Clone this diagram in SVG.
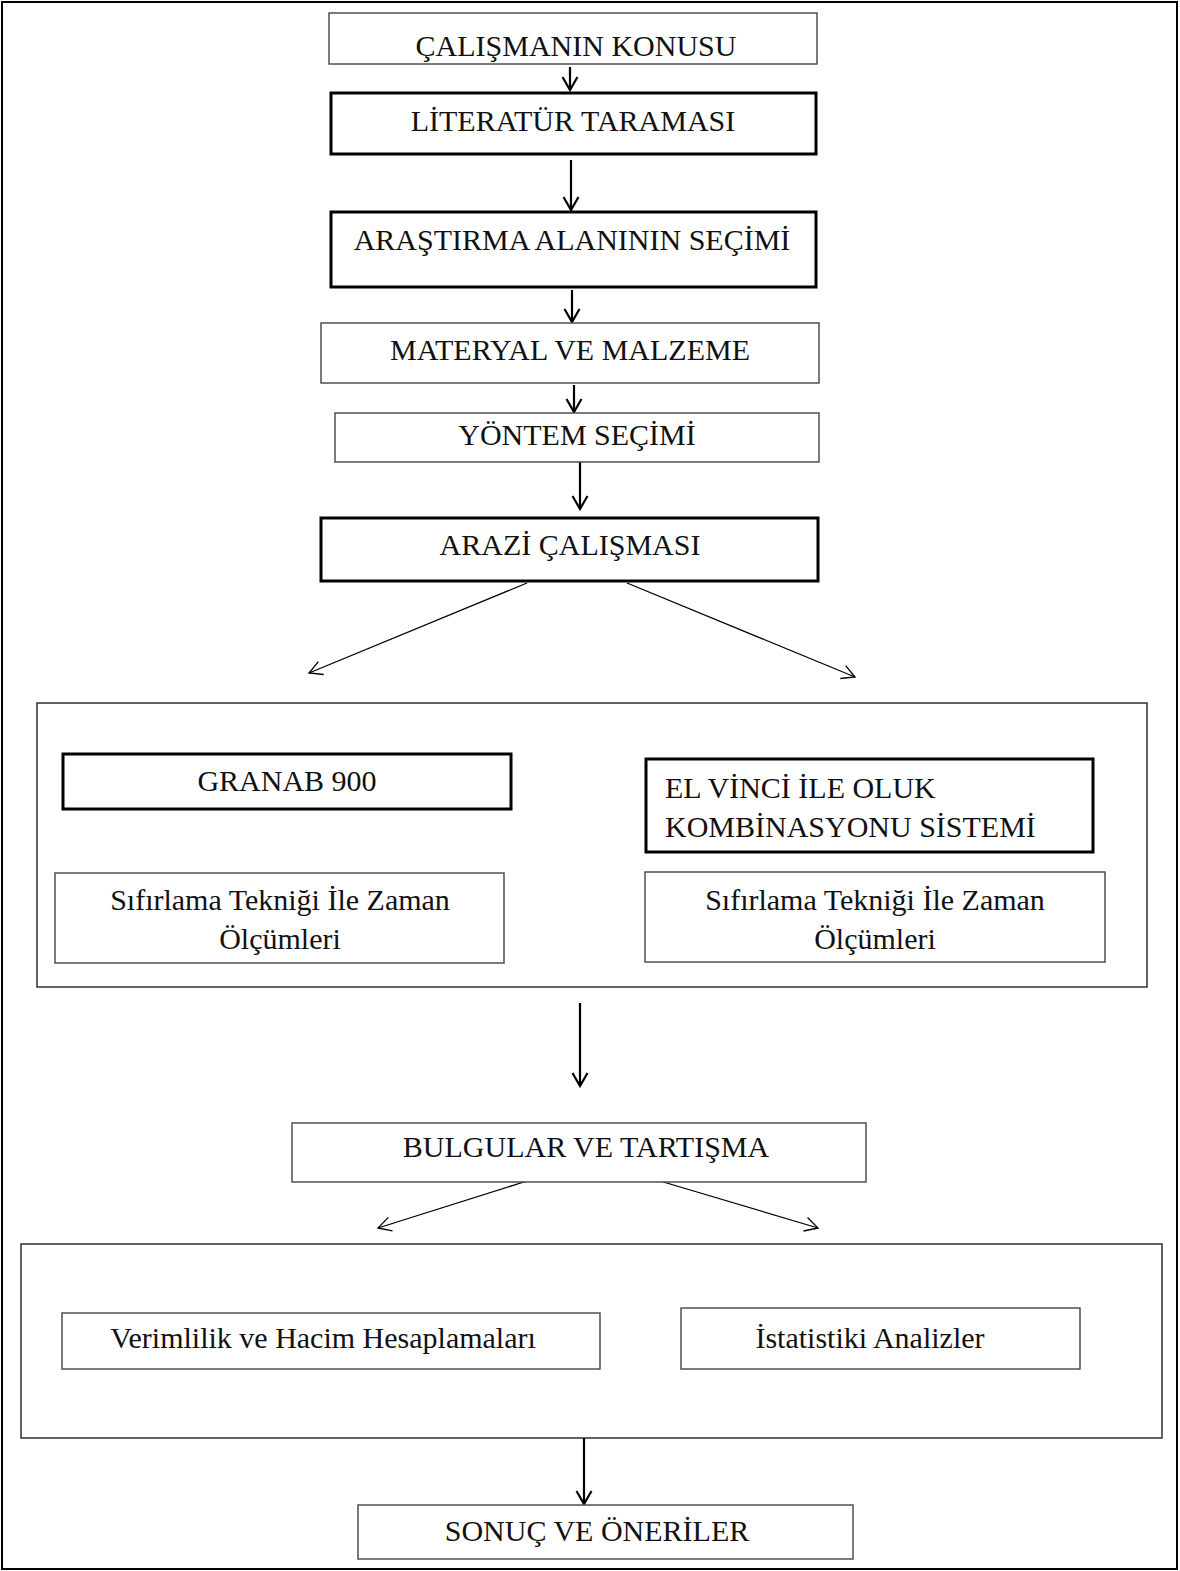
<svg xmlns="http://www.w3.org/2000/svg" width="1180" height="1571" viewBox="0 0 1180 1571">
<style>
.bg{fill:#fff}
.frame{fill:none;stroke:#000;stroke-width:2}
.thin{fill:#fff;stroke:#444;stroke-width:1.4}
.thick{fill:#fff;stroke:#000;stroke-width:3}
.cont{fill:none;stroke:#222;stroke-width:1.4}
text{font-family:"Liberation Serif","Times New Roman",serif;font-size:30px;fill:#111}
.c{text-anchor:middle}
.v{fill:none;stroke:#000;stroke-width:2.2;marker-end:url(#ah)}
.d{fill:none;stroke:#000;stroke-width:1.3;marker-end:url(#ahd)}
</style>
<defs>
<marker id="ah" markerUnits="userSpaceOnUse" viewBox="-15 -10 17 20" markerWidth="17" markerHeight="20" refX="0" refY="0" orient="auto">
<path d="M-13,-7.5 L0,0 L-13,7.5" fill="none" stroke="#000" stroke-width="2.2"/>
</marker>
<marker id="ahd" markerUnits="userSpaceOnUse" viewBox="-15 -10 17 20" markerWidth="17" markerHeight="20" refX="0" refY="0" orient="auto">
<path d="M-13,-7 L0,0 L-13,7" fill="none" stroke="#000" stroke-width="1.3"/>
</marker>
</defs>
<rect class="bg" x="0" y="0" width="1180" height="1571"/>
<rect class="frame" x="2" y="2" width="1175" height="1567"/>

<g id="connectors">
<line class="v" x1="570" y1="67" x2="570" y2="90"/>
<line class="v" x1="571" y1="160" x2="571" y2="210"/>
<line class="v" x1="572" y1="290" x2="572" y2="322"/>
<line class="v" x1="574" y1="385" x2="574" y2="412"/>
<line class="v" x1="580" y1="462" x2="580" y2="509"/>
<line class="d" x1="527" y1="583" x2="309" y2="673"/>
<line class="d" x1="627" y1="583" x2="855" y2="677"/>
<line class="v" x1="580" y1="1003" x2="580" y2="1086"/>
<line class="d" x1="527" y1="1181" x2="378" y2="1228"/>
<line class="d" x1="660" y1="1181" x2="818" y2="1228"/>
<line class="v" x1="584" y1="1438" x2="584" y2="1504"/>
</g>

<g id="n1"><rect class="thin" x="329" y="13" width="488" height="51"/><text class="c" x="576" y="56">ÇALIŞMANIN KONUSU</text></g>
<g id="n2"><rect class="thick" x="331" y="93" width="485" height="61"/><text class="c" x="573" y="131">LİTERATÜR TARAMASI</text></g>
<g id="n3"><rect class="thick" x="331" y="212" width="485" height="75"/><text class="c" x="572" y="250">ARAŞTIRMA ALANININ SEÇİMİ</text></g>
<g id="n4"><rect class="thin" x="321" y="323" width="498" height="60"/><text class="c" x="570" y="360">MATERYAL VE MALZEME</text></g>
<g id="n5"><rect class="thin" x="335" y="413" width="484" height="49"/><text class="c" x="577" y="445">YÖNTEM SEÇİMİ</text></g>
<g id="n6"><rect class="thick" x="321" y="518" width="497" height="63"/><text class="c" x="570" y="555">ARAZİ ÇALIŞMASI</text></g>

<g id="group1"><rect class="cont" x="37" y="703" width="1110" height="284"/></g>
<g id="n7"><rect class="thick" x="63" y="754" width="448" height="55"/><text class="c" x="287" y="791">GRANAB 900</text></g>
<g id="n8"><rect class="thick" x="646" y="759" width="447" height="93"/><text x="665" y="798">EL VİNCİ İLE OLUK</text><text x="665" y="837">KOMBİNASYONU SİSTEMİ</text></g>
<g id="n9"><rect class="thin" x="55" y="873" width="449" height="90"/><text class="c" x="280" y="910">Sıfırlama Tekniği İle Zaman</text><text class="c" x="280" y="949">Ölçümleri</text></g>
<g id="n10"><rect class="thin" x="645" y="872" width="460" height="90"/><text class="c" x="875" y="910">Sıfırlama Tekniği İle Zaman</text><text class="c" x="875" y="949">Ölçümleri</text></g>

<g id="n11"><rect class="thin" x="292" y="1123" width="574" height="59"/><text class="c" x="586" y="1157">BULGULAR VE TARTIŞMA</text></g>

<g id="group2"><rect class="cont" x="21" y="1244" width="1141" height="194"/></g>
<g id="n12"><rect class="thin" x="62" y="1313" width="538" height="56"/><text class="c" x="323" y="1348">Verimlilik ve Hacim Hesaplamaları</text></g>
<g id="n13"><rect class="thin" x="681" y="1308" width="399" height="61"/><text class="c" x="870" y="1348">İstatistiki Analizler</text></g>

<g id="n14"><rect class="thin" x="358" y="1505" width="495" height="54"/><text class="c" x="597" y="1541">SONUÇ VE ÖNERİLER</text></g>
</svg>
